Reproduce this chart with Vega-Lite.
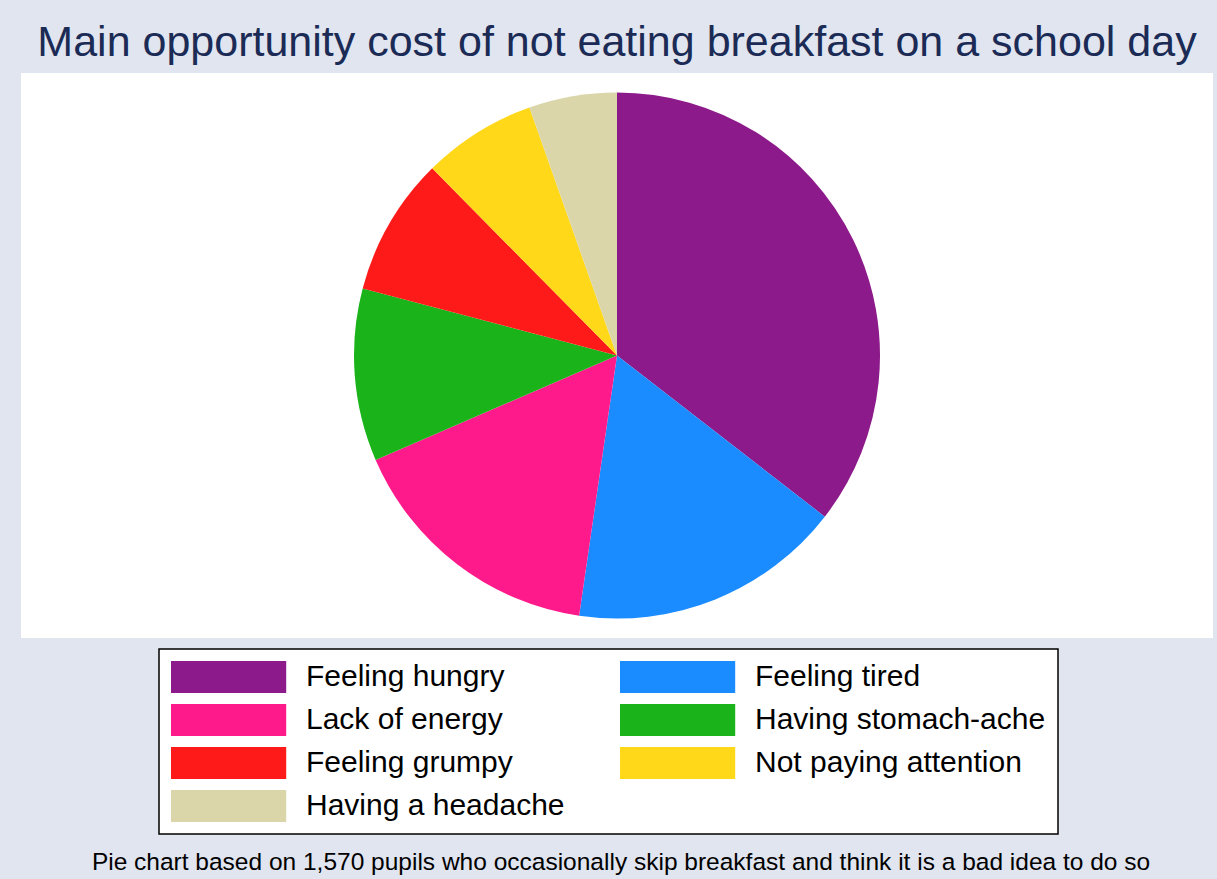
{
  "$schema": "https://vega.github.io/schema/vega-lite/v6.json",
  "autosize": {"type": "none"},
  "width": 1192,
  "height": 565,
  "padding": {"left": 21, "top": 73, "right": 4, "bottom": 241},
  "background": "#E0E5EF",
  "config": {
    "view": {"fill": "white", "stroke": null},
    "font": "Liberation Sans"
  },
  "title": {
    "text": "Main opportunity cost of not eating breakfast on a school day",
    "fontSize": 43,
    "font": "Liberation Sans",
    "fontWeight": "normal",
    "color": "#1B2B56",
    "anchor": "middle",
    "frame": "group",
    "baseline": "alphabetic",
    "offset": 16,
    "dy": 42
  },
  "data": {
    "values": [
      {"reason": "Feeling hungry", "share": 35.5, "rank": 1},
      {"reason": "Feeling tired", "share": 16.8, "rank": 2},
      {"reason": "Lack of energy", "share": 16.2, "rank": 3},
      {"reason": "Having stomach-ache", "share": 10.6, "rank": 4},
      {"reason": "Feeling grumpy", "share": 8.5, "rank": 5},
      {"reason": "Not paying attention", "share": 7.0, "rank": 6},
      {"reason": "Having a headache", "share": 5.4, "rank": 7}
    ]
  },
  "layer": [
    {
      "mark": {"type": "arc", "outerRadius": 263, "strokeWidth": 0},
      "encoding": {
        "theta": {"field": "share", "type": "quantitative", "stack": true},
        "order": {"field": "rank", "type": "quantitative"},
        "color": {
          "field": "reason",
          "type": "nominal",
          "scale": {
            "domain": ["Feeling hungry", "Lack of energy", "Feeling grumpy", "Having a headache", "Feeling tired", "Having stomach-ache", "Not paying attention"],
            "range": ["#8C1A8A", "#FF1A8C", "#FF1A1A", "#DAD6A9", "#1A8CFF", "#1AB41A", "#FFD81A"]
          },
          "legend": {
            "title": null,
            "orient": "none",
            "legendX": 138,
            "legendY": 576,
            "columns": 2,
            "columnPadding": 55,
            "rowPadding": 11,
            "padding": 12,
            "fillColor": "white",
            "strokeColor": "black",
            "symbolType": "M-1,-1H6.2V1H-1Z",
            "symbolSize": 1024,
            "symbolStrokeWidth": 0,
            "symbolOpacity": 1,
            "labelOffset": 103,
            "labelFontSize": 30,
            "labelFont": "Liberation Sans",
            "labelColor": "black",
            "labelLimit": 600,
            "labelExpr": "datum.label == 'Having stomach-ache' ? datum.label + '  ' : datum.label",
            "encode": {
              "legend": {"update": {"strokeWidth": {"value": 1.5}}}
            }
          }
        }
      }
    },
    {
      "mark": {"type": "rule", "opacity": 0},
      "encoding": {
        "x": {
          "datum": 0,
          "type": "quantitative",
          "axis": {
            "title": "Pie chart based on 1,570 pupils who occasionally skip breakfast and think it is a bad idea to do so",
            "domain": false,
            "ticks": false,
            "labels": false,
            "grid": false,
            "titleFont": "Liberation Sans",
            "titleFontSize": 24.5,
            "titleFontWeight": "normal",
            "titleColor": "black",
            "titleBaseline": "alphabetic",
            "titlePadding": 231,
            "titleX": 599.5
          }
        }
      }
    }
  ]
}
